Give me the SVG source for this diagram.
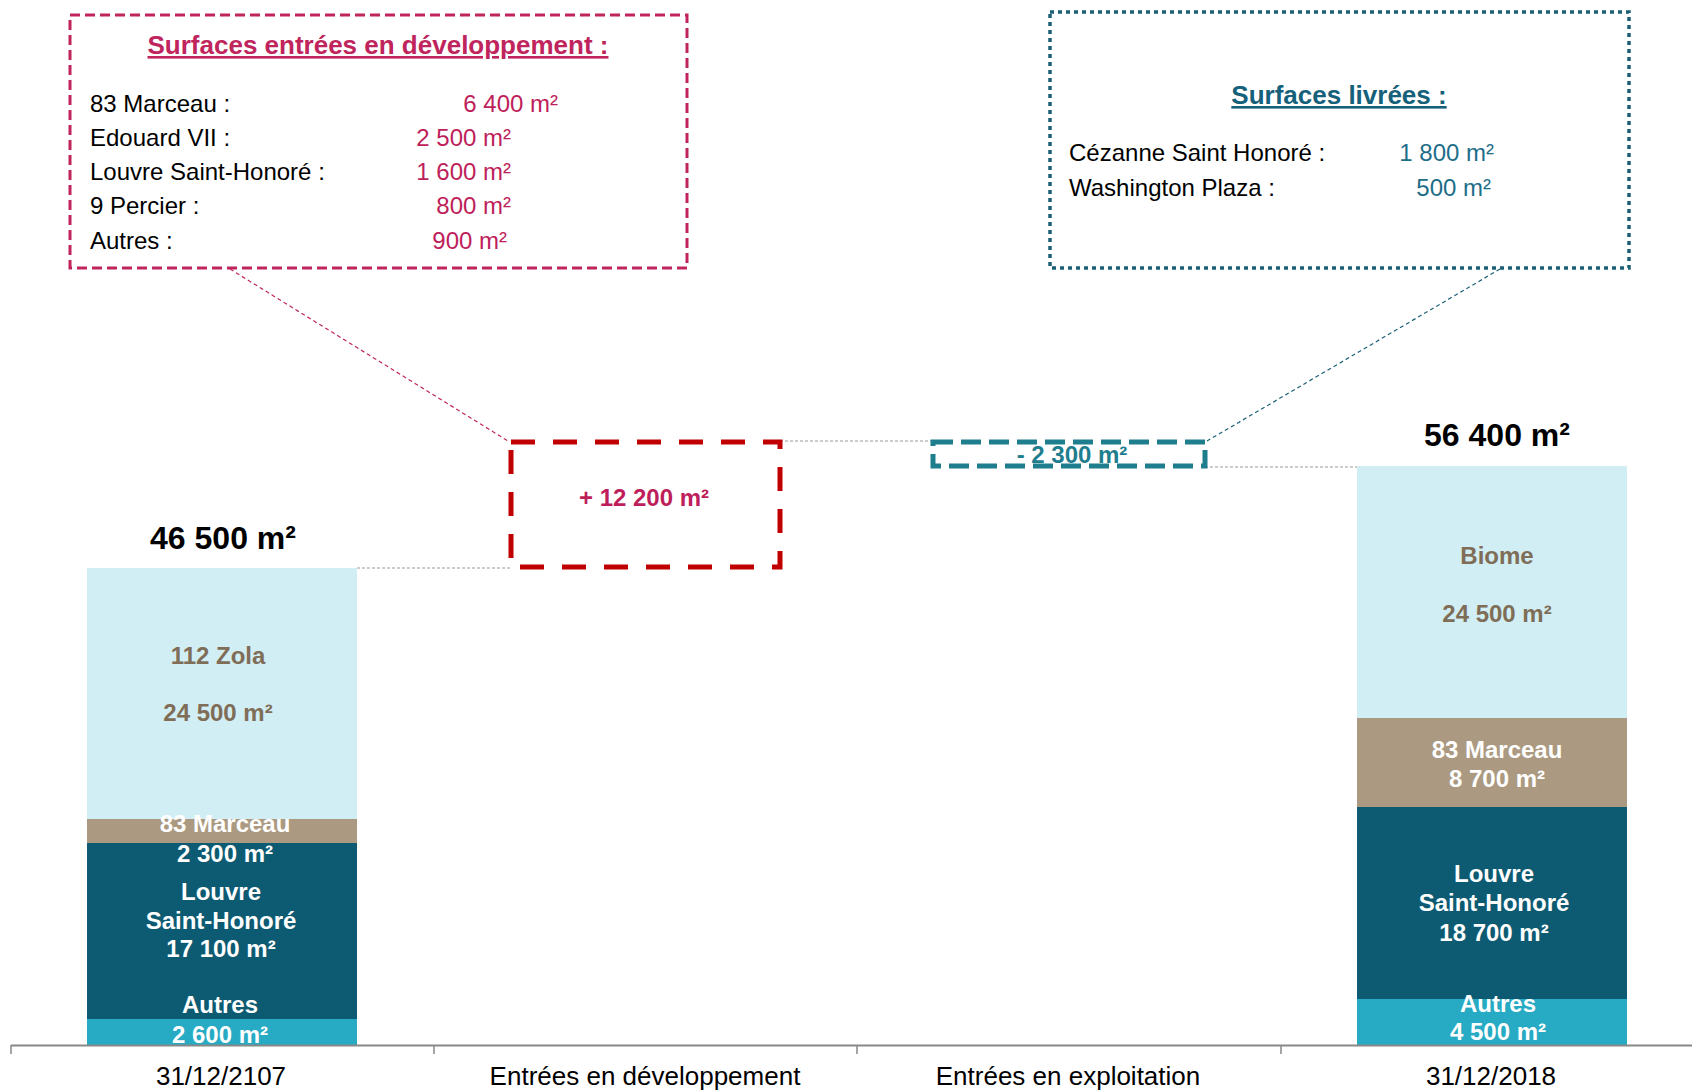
<svg xmlns="http://www.w3.org/2000/svg" width="1692" height="1090" viewBox="0 0 1692 1090">
<style>
text{font-family:"Liberation Sans",Arial,sans-serif}
.b{font-weight:bold}
.bar{font-size:24px;font-weight:bold;text-anchor:middle}
.w{fill:#ffffff}
.br{fill:#7F6D57}
.row{font-size:24px;fill:#000}
.mv{font-size:24px;fill:#BE1E5A;text-anchor:end}
.tv{font-size:24px;fill:#1E6E8A;text-anchor:end}
.ax{font-size:26px;fill:#000;text-anchor:middle}
.gl{stroke:#999;stroke-width:1.2;stroke-dasharray:3 2;fill:none}
</style>
<rect width="1692" height="1090" fill="#ffffff"/>

<g id="connectors">
<line class="gl" x1="357" y1="568" x2="511" y2="568"/>
<line class="gl" x1="780" y1="441" x2="933" y2="441"/>
<line class="gl" x1="1205" y1="467" x2="1357" y2="467"/>
<line x1="230" y1="269" x2="508" y2="441" stroke="#C0245C" stroke-width="1.2" stroke-dasharray="4 3"/>
<line x1="1500" y1="269" x2="1207" y2="441" stroke="#1B6077" stroke-width="1.2" stroke-dasharray="4 3"/>
</g>

<g id="callout-dev">
<rect x="70" y="15" width="617" height="253" fill="none" stroke="#C0245C" stroke-width="3" stroke-dasharray="10 5"/>
<text x="378" y="54" class="b" font-size="26" fill="#C0245C" text-anchor="middle" text-decoration="underline">Surfaces entrées en développement :</text>
<text x="90" y="112" class="row">83 Marceau :</text>
<text x="90" y="146" class="row">Edouard VII :</text>
<text x="90" y="180" class="row">Louvre Saint-Honoré :</text>
<text x="90" y="214" class="row">9 Percier :</text>
<text x="90" y="249" class="row">Autres :</text>
<text x="558" y="112" class="mv">6 400 m²</text>
<text x="511" y="146" class="mv">2 500 m²</text>
<text x="511" y="180" class="mv">1 600 m²</text>
<text x="511" y="214" class="mv">800 m²</text>
<text x="507" y="249" class="mv">900 m²</text>
</g>

<g id="callout-livrees">
<rect x="1050" y="12" width="579" height="256" fill="none" stroke="#1B6077" stroke-width="3.5" stroke-dasharray="4 4"/>
<text x="1339" y="104" class="b" font-size="26" fill="#15607A" text-anchor="middle" text-decoration="underline">Surfaces livrées :</text>
<text x="1069" y="161" class="row">Cézanne Saint Honoré :</text>
<text x="1069" y="196" class="row">Washington Plaza :</text>
<text x="1494" y="161" class="tv">1 800 m²</text>
<text x="1491" y="196" class="tv">500 m²</text>
</g>

<g id="bar-2017">
<rect x="87" y="568" width="270" height="251" fill="#D1EEF4"/>
<rect x="87" y="819" width="270" height="24" fill="#AB9A81"/>
<rect x="87" y="843" width="270" height="176" fill="#0D5B72"/>
<rect x="87" y="1019" width="270" height="26" fill="#27AAC3"/>
<text x="223" y="549" class="b" font-size="32" fill="#000" text-anchor="middle">46 500 m²</text>
<text x="218" y="664" class="bar br">112 Zola</text>
<text x="218" y="721" class="bar br">24 500 m²</text>
<text x="225" y="832" class="bar w">83 Marceau</text>
<text x="225" y="862" class="bar w">2 300 m²</text>
<text x="221" y="900" class="bar w">Louvre</text>
<text x="221" y="929" class="bar w">Saint-Honoré</text>
<text x="221" y="957" class="bar w">17 100 m²</text>
<text x="220" y="1013" class="bar w">Autres</text>
<text x="220" y="1043" class="bar w">2 600 m²</text>
</g>

<g id="box-dev">
<rect x="511" y="442" width="269" height="125" fill="none" stroke="#C00000" stroke-width="5" stroke-dasharray="24 18"/>
<text x="644" y="506" class="b" font-size="24" fill="#BE1E5A" text-anchor="middle">+ 12 200 m²</text>
</g>

<g id="box-exploit">
<rect x="933" y="442" width="272" height="24" fill="none" stroke="#1F7E8E" stroke-width="5" stroke-dasharray="20 8"/>
<text x="1072" y="463" class="b" font-size="24" fill="#1F7E8E" text-anchor="middle">- 2 300 m²</text>
</g>

<g id="bar-2018">
<rect x="1357" y="466" width="270" height="252" fill="#D1EEF4"/>
<rect x="1357" y="718" width="270" height="89" fill="#AB9A81"/>
<rect x="1357" y="807" width="270" height="192" fill="#0D5B72"/>
<rect x="1357" y="999" width="270" height="46" fill="#27AAC3"/>
<text x="1497" y="446" class="b" font-size="32" fill="#000" text-anchor="middle">56 400 m²</text>
<text x="1497" y="564" class="bar br">Biome</text>
<text x="1497" y="622" class="bar br">24 500 m²</text>
<text x="1497" y="758" class="bar w">83 Marceau</text>
<text x="1497" y="787" class="bar w">8 700 m²</text>
<text x="1494" y="882" class="bar w">Louvre</text>
<text x="1494" y="911" class="bar w">Saint-Honoré</text>
<text x="1494" y="941" class="bar w">18 700 m²</text>
<text x="1498" y="1012" class="bar w">Autres</text>
<text x="1498" y="1040" class="bar w">4 500 m²</text>
</g>

<g id="axis">
<line x1="11" y1="1045.5" x2="1692" y2="1045.5" stroke="#888" stroke-width="2"/>
<line x1="11" y1="1045" x2="11" y2="1054" stroke="#888" stroke-width="1.5"/>
<line x1="434" y1="1045" x2="434" y2="1054" stroke="#888" stroke-width="1.5"/>
<line x1="857" y1="1045" x2="857" y2="1054" stroke="#888" stroke-width="1.5"/>
<line x1="1281" y1="1045" x2="1281" y2="1054" stroke="#888" stroke-width="1.5"/>
<text x="221" y="1085" class="ax">31/12/2107</text>
<text x="645" y="1085" class="ax">Entrées en développement</text>
<text x="1068" y="1085" class="ax">Entrées en exploitation</text>
<text x="1491" y="1085" class="ax">31/12/2018</text>
</g>
</svg>
